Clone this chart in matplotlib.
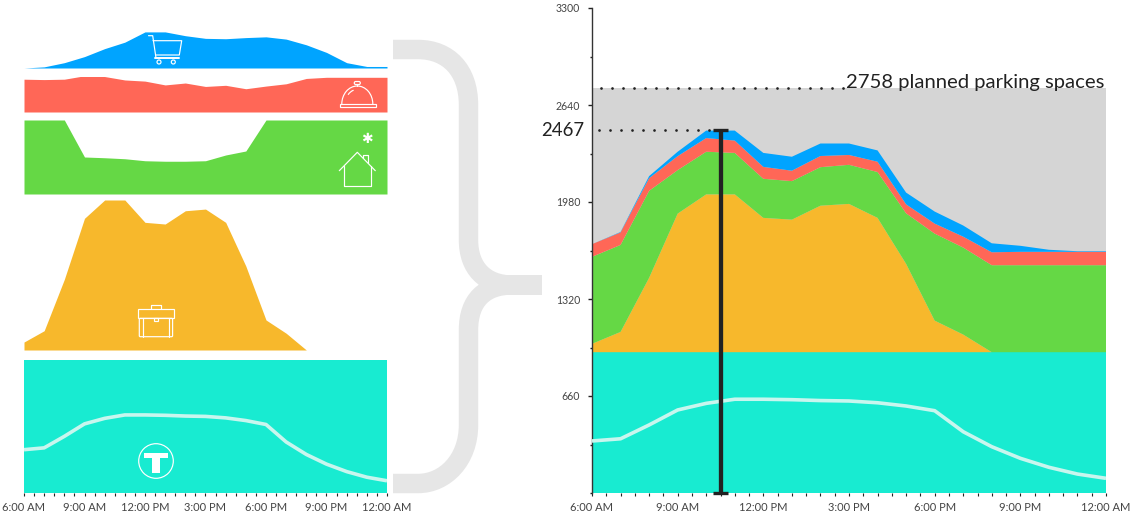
import matplotlib
matplotlib.use("Agg")
import matplotlib.pyplot as plt
from matplotlib.patches import Circle, Arc, FancyBboxPatch, PathPatch, Rectangle
from matplotlib.path import Path
from matplotlib.ticker import MultipleLocator

W, H = 1130, 519
plt.rcParams["font.family"] = ["Lato", "DejaVu Sans"]

# Hours after 6:00 AM
hours = list(range(19))
tick_hours = [0, 3, 6, 9, 12, 15, 18]
tick_labels = ["6:00 AM", "9:00 AM", "12:00 PM", "3:00 PM", "6:00 PM", "9:00 PM", "12:00 AM"]
y_ticks = [660, 1320, 1980, 2640, 3300]

# Parking demand by land use, in spaces
shopping = [0, 3, 14, 30, 51, 68, 95, 95, 85, 78, 77, 80, 82, 76, 61, 41, 14, 4, 4]
restaurant = [86, 85, 86, 95, 93, 84, 81, 71, 76, 67, 70, 61, 68, 74, 88, 91, 91, 91, 91]
residential = [592, 592, 592, 296, 290, 282, 266, 262, 262, 266, 312, 344, 592, 592, 592, 592, 592, 592, 592]
office = [57, 138, 506, 943, 1074, 1074, 914, 902, 997, 1009, 914, 601, 215, 120, 0, 0, 0, 0, 0]
transit_capacity = [958] * 19
transit_use = [354, 369, 463, 565, 610, 638, 638, 635, 629, 626, 614, 592, 560, 417, 315, 236, 175, 129, 100]

planned_spaces = 2758
peak_demand = 2467
peak_hour = 4.5

BLUE, RED, GREEN, ORANGE, TEAL = "#00a4ff", "#ff6757", "#65d845", "#f7b82c", "#18ebd1"
GREY, BRACE, INK, TICK = "#d5d5d5", "#e6e6e6", "#222222", "#444444"
USE_LINE = "#c8f6ee"

fig = plt.figure(figsize=(W / 100, H / 100), dpi=100, facecolor="white")


def px_axes(left, top, right, bottom, **kw):
    return fig.add_axes([left / W, 1 - bottom / H, (right - left) / W, (bottom - top) / H], **kw)


def time_axis(ax):
    ax.set_xlim(0, 18)
    ax.xaxis.set_minor_locator(MultipleLocator(0.5))
    ax.set_xticks(tick_hours, tick_labels, fontsize=8, color=TICK)
    ax.tick_params(axis="x", which="major", length=2.0, width=0.8, pad=4.8, color=INK)
    ax.tick_params(axis="x", which="minor", length=2.0, width=0.8, color=INK)


# Small multiples, one band per land use
panels = [
    (shopping, BLUE, 30, 68, 100),
    (restaurant, RED, 77.3, 112, 91),
    (residential, GREEN, 120, 194, 592),
    (office, ORANGE, 200, 350, 1074),
]
for series, color, top, bottom, ymax in panels:
    ax = px_axes(24, top, 387, bottom)
    ax.fill_between(hours, series, 0, color=color, lw=0)
    ax.set_xlim(0, 18)
    ax.set_ylim(0, ymax)
    ax.axis("off")

ax_transit = px_axes(24, 360, 387, 493)
ax_transit.fill_between(hours, transit_capacity, 0, color=TEAL, lw=0)
ax_transit.set_ylim(0, 958)
ax_transit.set_yticks([])
for side in ax_transit.spines.values():
    side.set_visible(False)
time_axis(ax_transit)
ax_use = ax_transit.twinx()
ax_use.plot(hours, transit_use, color=USE_LINE, lw=2.6, solid_capstyle="butt")
ax_use.set_ylim(0, 1087)
ax_use.set_yticks([])
for side in ax_use.spines.values():
    side.set_visible(False)

# Combined stack
ax = px_axes(592, 8, 1106, 493)
ax.fill_between(hours, [planned_spaces] * 19, 0, color=GREY, lw=0, zorder=1)
ax.stackplot(hours, transit_capacity, office, residential, restaurant, shopping,
             colors=[TEAL, ORANGE, GREEN, RED, BLUE], lw=0, zorder=2)
ax.plot(hours, transit_use, color=USE_LINE, lw=2.6, solid_capstyle="butt", zorder=3)
ax.set_ylim(0, 3300)
time_axis(ax)
ax.set_yticks(y_ticks)
ax.set_yticklabels([str(v) for v in y_ticks], fontsize=7.6, color=TICK)
ax.yaxis.set_minor_locator(MultipleLocator(330))
ax.tick_params(axis="y", which="major", length=3, width=1, pad=5.5, color=INK)
ax.tick_params(axis="y", which="minor", length=1.5, width=1, color=INK)
for name in ("top", "right", "bottom"):
    ax.spines[name].set_visible(False)
ax.spines["left"].set_color("#333333")
ax.spines["left"].set_linewidth(1)

dots = (0, (0.01, 3.95))
ax.plot([0.33, 8.85], [planned_spaces] * 2, color=INK, lw=2, ls=dots, dash_capstyle="round", zorder=5, clip_on=False)
ax.plot([0.25, peak_hour - 0.2], [peak_demand] * 2, color=INK, lw=2, ls=dots, dash_capstyle="round", zorder=5, clip_on=False)
ax.plot([peak_hour, peak_hour], [0, peak_demand], color=INK, lw=3.1, solid_capstyle="butt", zorder=6, clip_on=False)
for level in (0, peak_demand):
    ax.plot([peak_hour - 0.26, peak_hour + 0.26], [level, level], color=INK, lw=2.4,
            solid_capstyle="butt", zorder=6, clip_on=False)

ax.text(8.89, planned_spaces + 37, f"{planned_spaces} planned parking spaces", fontsize=14.6,
        color=INK, va="center", ha="left", zorder=7)
ax.text(-0.28, peak_demand, str(peak_demand), fontsize=13.4, color=INK, va="center", ha="right", zorder=7)

# Overlay in pixel units for the brace and the white pictograms
deco = fig.add_axes([0, 0, 1, 1], zorder=10)
deco.set_xlim(0, W)
deco.set_ylim(H, 0)
deco.axis("off")
deco.patch.set_alpha(0)

M, L, C = Path.MOVETO, Path.LINETO, Path.CURVE4
brace = Path(
    [(393, 49.5), (418, 49.5), (448, 49.5), (468.5, 70), (468.5, 105), (468.5, 240),
     (468.5, 268), (485, 285), (512, 285), (542, 285),
     (542, 285), (512, 285), (485, 285), (468.5, 300), (468.5, 330), (468.5, 425),
     (468.5, 460), (445, 483.5), (418, 483.5), (393, 483.5)],
    [M, L, C, C, C, L, C, C, C, L, M, L, C, C, C, L, C, C, C, L],
)
deco.add_patch(PathPatch(brace, fc="none", ec=BRACE, lw=14, capstyle="butt", joinstyle="round"))

ICON = dict(color="white", lw=0.85, solid_capstyle="round", solid_joinstyle="round")


def stroke(points, **kw):
    xs, ys = zip(*points)
    deco.plot(xs, ys, **{**ICON, **kw})


def outline(patch):
    patch.set(fc="none", ec="white", lw=0.85)
    deco.add_patch(patch)


# Shopping cart
stroke([(148.5, 35.7), (152.7, 35.7), (156, 58)])
stroke([(153, 40.7), (181.7, 40.7), (179.3, 55), (155.5, 55)])
stroke([(154.5, 58.3), (178.5, 58.3)], lw=1.4)
outline(Circle((159, 62), 2))
outline(Circle((173.3, 62), 2))

# Service bell
outline(Arc((357.3, 104), 31, 36, theta1=180, theta2=360))
outline(FancyBboxPatch((354.3, 81.5), 6, 3, boxstyle="round,pad=0,rounding_size=1.4"))
stroke([(357.3, 85), (357.3, 86)])
outline(Rectangle((339.5, 104), 36, 3.2))
outline(Arc((357.3, 104), 24, 29, theta1=225, theta2=255))

# House with its asterisk
stroke([(339.3, 170.7), (357.3, 152.3), (375.3, 170.7)])
stroke([(343.7, 166), (343.7, 186), (370.7, 186), (370.7, 166)])
stroke([(363.3, 158.3), (363.3, 155), (367.7, 155), (367.7, 163.3)])
deco.text(367.3, 139, "\u2731", family="DejaVu Sans", fontsize=10, color="white", ha="center", va="center")

# Briefcase
outline(Rectangle((138.3, 309.3), 35.4, 9))
outline(FancyBboxPatch((139.3, 318.3), 33.3, 18.4, boxstyle="round,pad=0,rounding_size=1"))
stroke([(143.3, 318.3), (143.3, 336.7)])
stroke([(168.7, 318.3), (168.7, 336.7)])
stroke([(151, 309.3), (151, 304.7), (161, 304.7), (161, 309.3)])
outline(Rectangle((153.7, 318.3), 4, 2.3))

# Transit roundel
outline(Circle((156, 461), 17.3))
deco.add_patch(Rectangle((144.3, 452.7), 23.4, 5.3, fc="white", ec="none"))
deco.add_patch(Rectangle((152.3, 458), 7.4, 14.7, fc="white", ec="none"))

fig.savefig("out.png", dpi=100)
